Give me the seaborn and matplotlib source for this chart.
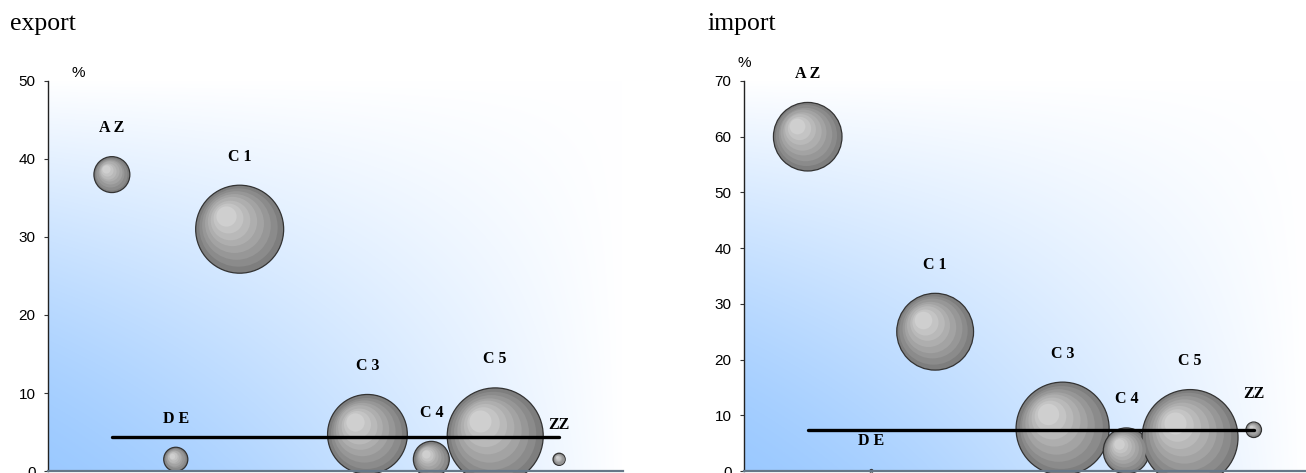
import matplotlib
matplotlib.use('Agg')
import matplotlib.pyplot as plt
import matplotlib.transforms as mtrans
import numpy as np
import pandas as pd
import seaborn as sns

# data
labels = ['A Z', 'D E', 'C 1', 'C 3', 'C 4', 'C 5', 'ZZ']
positions = [1, 2, 3, 5, 6, 7, 8]

export_share = [38, 1.5, 31, 4.7, 1.5, 4.5, 1.5]
export_volume = [14, 6.3, 84, 69, 14, 100, 1.6]
export_avg = 4.3

import_share = [60, 0, 25, 7.6, 3.6, 6, 7.4]
import_volume = [51, 0.1, 64, 94, 23, 100, 2.6]
import_avg = 7.4

sns.set_theme(style='white')
plt.rcParams['font.family'] = ['Liberation Sans', 'DejaVu Sans']
plt.rcParams['text.color'] = 'black'

W, H = 1306, 473
fig = plt.figure(figsize=(W / 100, H / 100), dpi=100)

SMAX = (2 * 48 * 0.72) ** 2   # marker area (pt^2) for the biggest bubble
shades = ['#7e7e7e', '#8b8b8b', '#979797', '#a3a3a3', '#aeaeae', '#b9b9b9', '#c4c4c4', '#cfcfcf']


def background(ax):
    u = np.linspace(0, 1, 300)[None, :]
    v = np.linspace(1, 0, 300)[:, None]
    s = (1 - (1 - u) * (1 - v)) ** 1.4
    blue = np.array([0.61, 0.79, 1.0])
    img = blue + (1 - blue) * s[..., None]
    ax.imshow(img, extent=[0, 1, 0, 1], transform=ax.transAxes, aspect='auto',
              zorder=0, interpolation='bilinear')


def panel(rect, title, title_x, share, volume, avg, ymax, xmax, pct_xy):
    ax = fig.add_axes(rect)
    background(ax)
    df = pd.DataFrame({'pos': positions, 'share': share, 'volume': volume, 'label': labels})

    sns.scatterplot(data=df, x='pos', y='share', size='volume', sizes=(0, SMAX),
                    size_norm=(0, 100), color=shades[0], edgecolor='#333333',
                    linewidth=0.9, legend=False, ax=ax, zorder=3, clip_on=False)

    # fake sphere shading: concentric lighter discs shifted up-left
    for _, row in df.iterrows():
        r = np.sqrt(SMAX * row.volume / 100) / 2
        for k in range(1, 8):
            f = 1 - k * 0.11
            shift = (1 - f) * r * 0.4
            tr = mtrans.offset_copy(ax.transData, fig=fig, x=-shift, y=shift, units='points')
            ax.scatter([row.pos], [row.share], s=(2 * r * f) ** 2, color=shades[k],
                       linewidths=0, transform=tr, zorder=3, clip_on=False)
        ax.annotate(row.label, (row.pos, row.share), xytext=(0, r + 20.5),
                    textcoords='offset points', ha='center', va='center',
                    fontsize=11.5, fontweight='bold', family='Liberation Serif',
                    color='black', zorder=5)

    ax.plot([positions[0], positions[-1]], [avg, avg], color='black', lw=2.4,
            solid_capstyle='round', zorder=4)

    ax.set_xlim(0, xmax)
    ax.set_ylim(0, ymax)
    ax.set_yticks(range(0, ymax + 1, 10))
    ax.set_xticks([])
    ax.set_xlabel('')
    ax.set_ylabel('')
    ax.tick_params(axis='y', left=True, length=3, width=0.8, color='#333333',
                   pad=6, labelsize=11, labelcolor='black')
    for side in ['top', 'right']:
        ax.spines[side].set_visible(False)
    ax.spines['left'].set_color('#222222')
    ax.spines['left'].set_linewidth(1.0)
    ax.spines['bottom'].set_color('#667788')
    ax.spines['bottom'].set_linewidth(1.6)
    ax.spines['bottom'].set_zorder(6)

    ax.text(pct_xy[0], pct_xy[1], '%', transform=ax.transAxes, ha='center',
            va='center', fontsize=11, color='black')
    fig.text(title_x / W, 1 - 30 / H, title, ha='left', va='baseline',
             fontsize=18.5, family='Liberation Serif', color='black')
    return ax


panel([48 / W, 2 / H, 575 / W, 390 / H], 'export', 10, export_share, export_volume,
      export_avg, 50, 9.0, (0.052, 1.02))
panel([744 / W, 2 / H, 562 / W, 390 / H], 'import', 707, import_share, import_volume,
      import_avg, 70, 8.82, (0.0, 1.045))

fig.savefig('out.png', dpi=100)
